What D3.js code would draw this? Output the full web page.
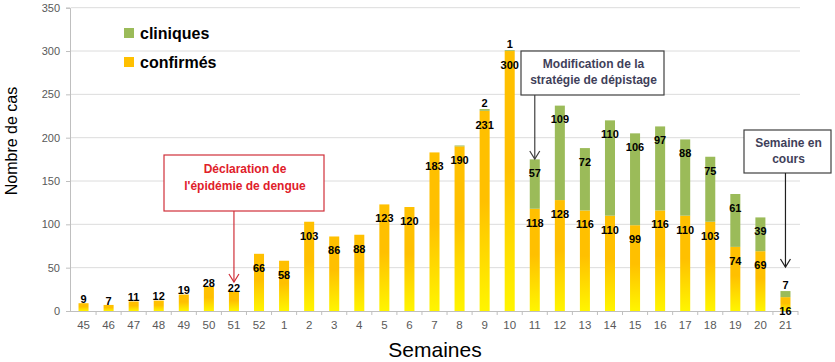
<!DOCTYPE html>
<html><head><meta charset="utf-8">
<script src="https://cdn.jsdelivr.net/npm/d3@7"></script>
<style>body{margin:0;background:#fff}svg{display:block}text{font-family:"Liberation Sans",Arial,sans-serif}</style>
</head><body><svg id="c" width="835" height="362"></svg>
<script>
const weeks = ["45","46","47","48","49","50","51","52","1","2","3","4","5","6","7","8","9","10","11","12","13","14","15","16","17","18","19","20","21"];
const confirmes = [9,7,11,12,19,28,22,66,58,103,86,88,123,120,183,190,231,300,118,128,116,110,99,116,110,103,74,69,16];
const cliniques = [0,0,0,0,0,0,0,0,0,0,0,0,0,0,0,1,2,1,57,109,72,110,106,97,88,75,61,39,7];
const cliniquesLabels = ["","","","","","","","","","","","","","","","","2","1","57","109","72","110","106","97","88","75","61","39","7"];
const yTicks = [0,50,100,150,200,250,300,350];
const seriesNames = ["cliniques","confirmés"];

const svg = d3.select("#c");
const x = d3.scaleBand().domain(weeks).range([71,798]).paddingInner(0.6).paddingOuter(0.3);
const y = d3.scaleLinear().domain([0,350]).range([311,7.7]);

const defs = svg.append("defs");
const g = defs.append("linearGradient").attr("id","gy").attr("x1",0).attr("y1",0).attr("x2",0).attr("y2",1);
g.append("stop").attr("offset","0%").attr("stop-color","#FFC000");
g.append("stop").attr("offset","45%").attr("stop-color","#FFC000");
g.append("stop").attr("offset","100%").attr("stop-color","#FFF500");

// gridlines
svg.append("g").selectAll("line").data(yTicks.filter(d=>d>0)).join("line")
  .attr("x1",71).attr("x2",800).attr("y1",d=>y(d)).attr("y2",d=>y(d))
  .attr("stroke","#DCDCDC").attr("stroke-width",1);

// y axis
const ya = svg.append("g").attr("transform","translate(70,0)")
  .call(d3.axisLeft(y).tickValues(yTicks).tickSize(4).tickPadding(6));
ya.select(".domain").attr("stroke","#BFBFBF");
ya.selectAll(".tick line").attr("stroke","#BFBFBF");
ya.selectAll("text").attr("fill","#595959").style("font-size","11px");

// x axis
const xa = svg.append("g").attr("transform","translate(0,311)")
  .call(d3.axisBottom(x).tickSize(0).tickPadding(10));
xa.select(".domain").remove();
xa.selectAll("text").attr("fill","#595959").style("font-size","11.5px");
svg.append("line").attr("x1",70).attr("x2",798).attr("y1",311.5).attr("y2",311.5).attr("stroke","#BFBFBF");
svg.append("g").selectAll("line").data(weeks).join("line")
  .attr("x1",d=>x(d)+x.bandwidth()+x.step()*0.3).attr("x2",d=>x(d)+x.bandwidth()+x.step()*0.3)
  .attr("y1",311).attr("y2",315).attr("stroke","#BFBFBF");

// bars
const bw = x.bandwidth();
svg.append("g").selectAll("rect").data(weeks).join("rect")
  .attr("x",d=>x(d)).attr("width",bw)
  .attr("y",(d,i)=>y(confirmes[i])).attr("height",(d,i)=>y(0)-y(confirmes[i]))
  .attr("fill","url(#gy)");
svg.append("g").selectAll("rect").data(weeks).join("rect")
  .attr("x",d=>x(d)).attr("width",bw)
  .attr("y",(d,i)=>y(confirmes[i]+cliniques[i])).attr("height",(d,i)=>y(confirmes[i])-y(confirmes[i]+cliniques[i]))
  .attr("fill","#9BBB59");

// labels
const lab = svg.append("g").style("font-size","11px").style("font-weight","bold").attr("fill","#000").attr("text-anchor","middle");
weeks.forEach((w,i)=>{
  const cx = x(w)+bw/2;
  const c = confirmes[i], k = cliniques[i];
  const inside = c >= 50 || k >= 5;
  lab.append("text").attr("x",cx).attr("y",inside ? y(c)+14 : y(c)-4).attr("dy","0.35em").text(c);
  if (cliniquesLabels[i]) {
    const top = y(c+k);
    lab.append("text").attr("x",cx).attr("y",k>=10 ? top+14 : top-6).attr("dy","0.35em").text(cliniquesLabels[i]);
  }
});

// axis titles
svg.append("text").attr("x",435).attr("y",350).attr("dy","0.35em").attr("text-anchor","middle")
  .style("font-size","21px").attr("fill","#000").text("Semaines");
svg.append("text").attr("transform","translate(11,141) rotate(-90)").attr("dy","0.35em").attr("text-anchor","middle")
  .style("font-size","16px").attr("fill","#000").text("Nombre de cas");

// legend
const leg = svg.append("g");
const legColors = ["#9BBB59","#FFC000"];
seriesNames.forEach((n,i)=>{
  leg.append("rect").attr("x",124).attr("y",28+i*29).attr("width",10).attr("height",10).attr("fill",legColors[i]);
  leg.append("text").attr("x",140).attr("y",33+i*29).attr("dy","0.35em").style("font-size","16px").style("font-weight","bold").attr("fill","#000").text(n);
});

// annotations
function arrow(xp,y1,y2,col){
  svg.append("line").attr("x1",xp).attr("x2",xp).attr("y1",y1).attr("y2",y2).attr("stroke",col).attr("stroke-width",1.2);
  svg.append("path").attr("d",`M${xp-5},${y2-8}L${xp},${y2}L${xp+5},${y2-8}`).attr("fill","none").attr("stroke",col).attr("stroke-width",1.2);
}
function box(x0,y0,x1,y1,lines,stroke,col,ys){
  svg.append("rect").attr("x",x0).attr("y",y0).attr("width",x1-x0).attr("height",y1-y0).attr("fill","#fff").attr("stroke",stroke).attr("stroke-width",1.2);
  lines.forEach((t,i)=>svg.append("text").attr("x",(x0+x1)/2+1).attr("y",ys[i]).attr("dy","0.35em").attr("text-anchor","middle")
    .style("font-size","12px").style("font-weight","bold").attr("fill",col).text(t));
}
const xr = x("51")+bw/2, xm = x("11")+bw/2, xs = x("21")+bw/2;
box(164,155,324,211,["Déclaration de","l'épidémie de dengue"],"#D0303A","#E0202A",[169,186]);
arrow(xr,211,282,"#D0303A");
box(521,51,664,95,["Modification de la","stratégie de dépistage"],"#404040","#3F3F5A",[64,80]);
arrow(xm,95,159,"#404040");
box(744,130,831,173,["Semaine en","cours"],"#404040","#3F3F5A",[143,159]);
arrow(xs,173,267,"#202020");
</script></body></html>
